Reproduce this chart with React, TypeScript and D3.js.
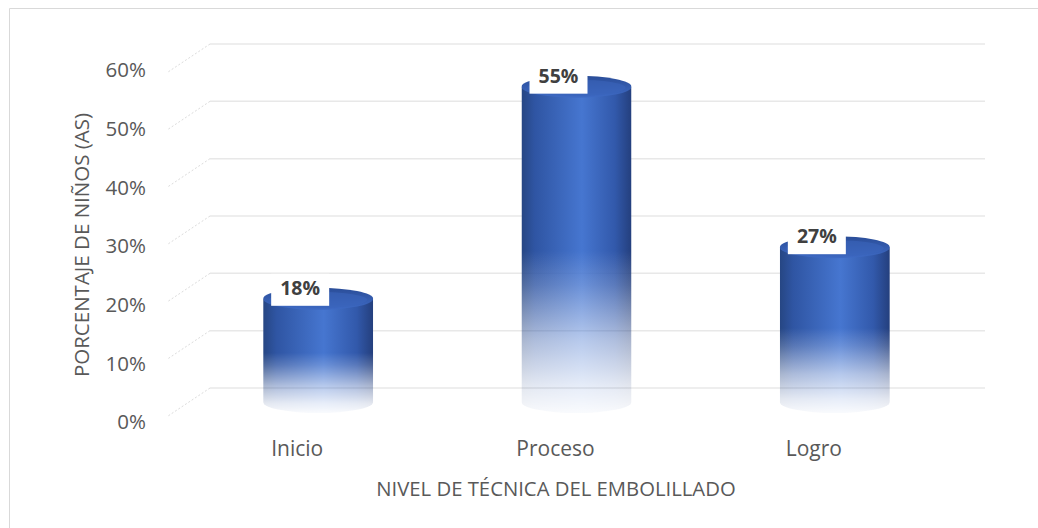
import * as d3 from 'd3';

const categories = ['Inicio', 'Proceso', 'Logro'];
const values = [0.18, 0.55, 0.27];
const valueLabels = ['18%', '55%', '27%'];
const yTicks = [0, 0.1, 0.2, 0.3, 0.4, 0.5, 0.6];

const W = 1038, H = 528;
// 3D depth offset (back wall -> front edge of floor)
const DX = -42, DY = 28;
const FONT = '"Open Sans", "Noto Sans", sans-serif';

function App() {
    const y = d3.scaleLinear().domain([0, 0.6]).range([388, 44]);
    // tick labels sit on the front edge, slightly wider spacing
    const yLab = d3.scaleLinear().domain([0, 0.6]).range([424, 72]);
    const x = d3.scaleBand().domain(categories).range([210, 985]).padding(0);

    const barW = 110, ry = 11;
    const fmt = d3.format('.0%');

    return (
        <svg width={W} height={H} style={{ position: 'absolute', left: 0, top: 0, background: '#fff' }}>
            <defs>
                <linearGradient id="body" x1="0" x2="1" y1="0" y2="0">
                    <stop offset="0" stopColor="#264683" />
                    <stop offset="0.12" stopColor="#2f55a3" />
                    <stop offset="0.55" stopColor="#4676d0" />
                    <stop offset="0.85" stopColor="#3259ab" />
                    <stop offset="1" stopColor="#243f7d" />
                </linearGradient>
                <linearGradient id="topFace" x1="0" x2="0" y1="0" y2="1">
                    <stop offset="0" stopColor="#2a4d98" />
                    <stop offset="1" stopColor="#3e6ac4" />
                </linearGradient>
                <linearGradient id="fade" x1="0" x2="0" y1="0" y2="1">
                    <stop offset="0" stopColor="#fff" />
                    <stop offset="0.52" stopColor="#fff" />
                    <stop offset="0.62" stopColor="#ccc" />
                    <stop offset="0.78" stopColor="#666" />
                    <stop offset="0.92" stopColor="#222" />
                    <stop offset="1" stopColor="#080808" />
                </linearGradient>
                <mask id="fadeMask" maskContentUnits="objectBoundingBox">
                    <rect x={0} y={0} width={1} height={1} fill="url(#fade)" />
                </mask>
            </defs>

            {/* outer frame */}
            <path d={`M9.5,${H} V8.5 H${W}`} fill="none" stroke="#d9d9d9" strokeWidth={1} />

            {/* gridlines: back wall + side wall */}
            {yTicks.map(t => (
                <g key={t}>
                    <line x1={210} x2={985} y1={y(t)} y2={y(t)} stroke="#e8e8e8" strokeWidth={1.5} />
                    <line x1={210} x2={210 + DX} y1={y(t)} y2={y(t) + DY} stroke="#dcdcdc" strokeWidth={1} strokeDasharray="2,2" />
                    <text x={146} y={yLab(t)} textAnchor="end" dominantBaseline="middle"
                        fontFamily={FONT} fontSize={20.5} fill="#595959">{fmt(t)}</text>
                </g>
            ))}

            {/* cylinders */}
            {categories.map((c, i) => {
                const cx = (x(c) as number) + x.bandwidth() / 2 + DX / 2;
                const yb = y(0) + DY / 2;
                const yt = y(values[i]) + DY / 2;
                const rx = barW / 2;
                const body = `M${cx - rx},${yt} L${cx - rx},${yb} A${rx},${ry} 0 0 0 ${cx + rx},${yb} L${cx + rx},${yt} Z`;
                return (
                    <g key={c}>
                        <g mask="url(#fadeMask)">
                            <path d={body} fill="url(#body)" />
                            <ellipse cx={cx} cy={yt} rx={rx} ry={ry} fill="url(#topFace)" />
                            <ellipse cx={cx} cy={yt + 1} rx={rx - 6} ry={ry - 3} fill="#3a64bb" opacity={0.6} />
                        </g>
                        <rect x={cx - 18 - 29} y={yt - 25} width={58} height={32} fill="#fff" />
                        <text x={cx - 18} y={yt - 9} textAnchor="middle" dominantBaseline="middle"
                            fontFamily={FONT} fontSize={19.5} fontWeight="bold" fill="#404040">{valueLabels[i]}</text>
                    </g>
                );
            })}

            {/* category labels (front edge) */}
            {categories.map(c => (
                <text key={c} x={(x(c) as number) + x.bandwidth() / 2 + DX} y={450}
                    textAnchor="middle" dominantBaseline="middle" fontFamily={FONT} fontSize={21} fill="#595959">{c}</text>
            ))}

            <text x={556} y={491} textAnchor="middle" dominantBaseline="middle"
                fontFamily={FONT} fontSize={20.3} fill="#595959">NIVEL DE TÉCNICA DEL EMBOLILLADO</text>
            <text transform="translate(84,245) rotate(-90)" textAnchor="middle" dominantBaseline="middle"
                fontFamily={FONT} fontSize={20.5} fill="#595959">PORCENTAJE DE NIÑOS (AS)</text>
        </svg>
    );
}

export default App;
